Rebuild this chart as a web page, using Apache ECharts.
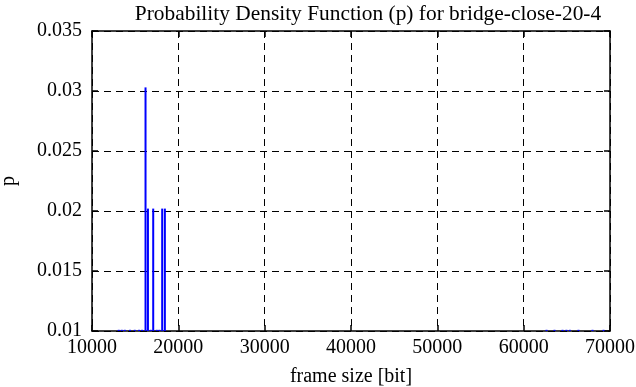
<!DOCTYPE html>
<html>
<head>
<meta charset="utf-8">
<script src="https://cdn.jsdelivr.net/npm/echarts@6/dist/echarts.min.js"></script>
<style>
html,body{margin:0;padding:0;background:#fff;}
#c{width:636px;height:387px;}
</style>
</head>
<body>
<div id="c"></div>
<script>
// frame size [bit] and probability p of each impulse
var frameSizes = [13100, 13450, 13800, 14400, 14950, 15450, 15800, 16200, 16480, 17090, 18130, 18440, 16800, 17500, 17800,
                  62650, 63570, 64500, 64950, 65350, 66350, 67975, 69250];
var probs      = [0.0101, 0.0101, 0.0101, 0.0101, 0.0101, 0.0101, 0.0101, 0.0303, 0.0202, 0.0202, 0.0202, 0.0202, 0.0101, 0.0101, 0.0101,
                  0.0101, 0.0101, 0.0101, 0.0101, 0.0101, 0.0101, 0.0101, 0.0101];
var xTicks = [10000, 20000, 30000, 40000, 50000, 60000, 70000];
var yTicks = ['0.01', '0.015', '0.02', '0.025', '0.03', '0.035'];

var FONT = 'Liberation Serif';
var data = frameSizes.map(function (x, i) { return [x, probs[i]]; });
var yMin = 0.01, yMax = 0.035;

var chart = echarts.init(document.getElementById('c'), null, {renderer: 'canvas'});
var dash = {color: '#000', type: [7, 5], width: 1};
chart.setOption({
  animation: false,
  backgroundColor: '#fff',
  title: {
    text: 'Probability Density Function (p) for bridge-close-20-4',
    left: 363, top: -1, textAlign: 'center',
    textStyle: {fontFamily: FONT, fontWeight: 'normal', fontSize: 21.4, color: '#000'}
  },
  grid: {left: 92, right: 26, top: 31, bottom: 56, show: false, containLabel: false, outerBoundsMode: 'none'},
  xAxis: [{
    type: 'value', min: xTicks[0], max: xTicks[xTicks.length - 1], interval: 10000,
    name: 'frame size [bit]', nameLocation: 'middle', nameGap: 36,
    nameTextStyle: {fontFamily: FONT, fontSize: 20, color: '#000'},
    axisLine: {show: true, lineStyle: {color: '#000', width: 1.5}},
    axisTick: {show: true, inside: true, length: 6, lineStyle: {color: '#000', width: 1.5}},
    axisLabel: {fontFamily: FONT, fontSize: 20, color: '#000', margin: 7,
      formatter: function (v) { return String(Math.round(v)); }},
    splitLine: {show: true, lineStyle: dash}
  }, {
    type: 'value', position: 'top', min: xTicks[0], max: xTicks[xTicks.length - 1], interval: 10000,
    axisLine: {show: true, lineStyle: {color: '#000', width: 1.5}},
    axisTick: {show: true, inside: true, length: 6, lineStyle: {color: '#000', width: 1.5}},
    axisLabel: {show: false}, splitLine: {show: false}
  }],
  yAxis: [{
    type: 'value', min: yMin, max: yMax, interval: 0.005,
    name: 'p', nameLocation: 'middle', nameGap: 73, nameRotate: 90,
    nameTextStyle: {fontFamily: FONT, fontSize: 20, color: '#000'},
    axisLine: {show: true, lineStyle: {color: '#000', width: 1.5}},
    axisTick: {show: true, inside: true, length: 6, lineStyle: {color: '#000', width: 1.5}},
    axisLabel: {fontFamily: FONT, fontSize: 20, color: '#000', margin: 10,
      formatter: function (v) { var s = yTicks.filter(function (t) { return Math.abs(+t - v) < 1e-9; }); return s.length ? s[0] : ''; }},
    splitLine: {show: true, lineStyle: dash}
  }, {
    type: 'value', position: 'right', min: yMin, max: yMax, interval: 0.005,
    axisLine: {show: true, lineStyle: {color: '#000', width: 1.5}},
    axisTick: {show: true, inside: true, length: 6, lineStyle: {color: '#000', width: 1.5}},
    axisLabel: {show: false}, splitLine: {show: false}
  }],
  series: [{
    type: 'custom',
    xAxisIndex: 0, yAxisIndex: 0,
    clip: true,
    data: data,
    renderItem: function (params, api) {
      var x = api.value(0), y = api.value(1);
      var p0 = api.coord([x, yMin]);
      var p1 = api.coord([x, y]);
      return {
        type: 'line',
        shape: {x1: p0[0], y1: p0[1], x2: p1[0], y2: p1[1]},
        style: {stroke: '#0000ff', lineWidth: 2}
      };
    }
  }]
});
</script>
</body>
</html>
